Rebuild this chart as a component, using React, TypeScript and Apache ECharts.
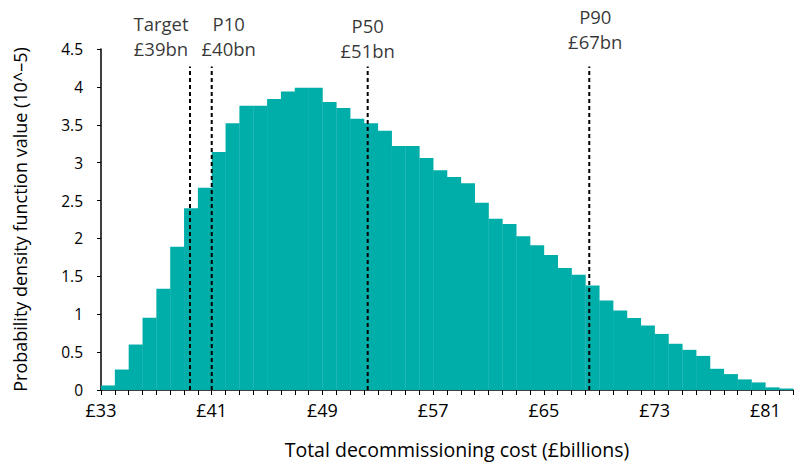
import React, { useEffect, useRef } from "react";
import * as echarts from "echarts";

// Histogram bins: each bin starts at the listed cost (£bn) and is 1 wide
const binStarts: number[] = [
  33, 34, 35, 36, 37, 38, 39, 40, 41, 42, 43, 44, 45, 46, 47, 48, 49, 50, 51, 52, 53, 54, 55, 56, 57,
  58, 59, 60, 61, 62, 63, 64, 65, 66, 67, 68, 69, 70, 71, 72, 73, 74, 75, 76, 77, 78, 79, 80, 81, 82,
];
const density: number[] = [
  0.06, 0.27, 0.6, 0.955, 1.335, 1.89, 2.4, 2.67, 3.14, 3.52, 3.75, 3.75, 3.84, 3.94, 3.99, 3.99, 3.8,
  3.72, 3.58, 3.52, 3.42, 3.22, 3.22, 3.06, 2.9, 2.81, 2.73, 2.47, 2.26, 2.19, 2.03, 1.91, 1.78, 1.61,
  1.52, 1.38, 1.18, 1.05, 0.95, 0.85, 0.74, 0.61, 0.53, 0.45, 0.28, 0.21, 0.14, 0.1, 0.035, 0.02,
];

// Reference lines (position on the cost axis) and their labels
const markerNames: string[] = ["Target", "P10", "P50", "P90"];
const markerValues: string[] = ["£39bn", "£40bn", "£51bn", "£67bn"];
const markerX: number[] = [39.43, 41.0, 52.27, 68.28];
const markerTop: number = 4.27;

const xLabelStep = 8;
const xMin = 33;
const xMax = 83;

const TEAL = "#00AEA9";
const TEXT = "#000";
const FONT = "'Open Sans', 'Noto Sans', sans-serif";

export default function App() {
  const ref = useRef<HTMLDivElement>(null);

  useEffect(() => {
    if (!ref.current) return;
    const chart = echarts.init(ref.current, undefined, { renderer: "svg" });

    const labelOffsets: number[][] = [
      [-29, 0],
      [17, 0],
      [0, 2],
      [6, -7],
    ];

    const lineSeries = markerX.map((x, i) => ({
      type: "line",
      name: markerNames[i],
      data: [
        [x, 0],
        [x, markerTop],
      ],
      symbol: "none",
      z: 5,
      lineStyle: { color: "#000", width: 2, type: [4, 3] },
      silent: true,
    }));

    const option: any = {
      animation: false,
      textStyle: { fontFamily: FONT },
      grid: { left: 101, right: 10, top: 49, bottom: 71, containLabel: false },
      xAxis: {
        type: "value",
        min: xMin,
        max: xMax,
        interval: 1,
        name: "Total decommissioning cost (£billions)",
        nameLocation: "middle",
        nameGap: 49,
        nameTextStyle: { fontSize: 19.5, color: TEXT, fontFamily: FONT, padding: [0, 0, 0, 20] },
        axisLine: { show: true, onZero: false, lineStyle: { color: "#000", width: 1.5 } },
        axisTick: { show: true, length: 5, lineStyle: { color: "#000", width: 1 } },
        splitLine: { show: false },
        axisLabel: {
          color: TEXT,
          fontSize: 18,
          margin: 11,
          fontFamily: FONT,
          showMinLabel: true,
          showMaxLabel: true,
          formatter: (v: number) =>
            (Math.round(v) - xMin) % xLabelStep === 0 && Math.abs(v - Math.round(v)) < 1e-6
              ? "£" + Math.round(v)
              : "",
        },
      },
      yAxis: {
        type: "value",
        min: 0,
        max: 4.5,
        interval: 0.5,
        name: "Probability density function value (10^–5)",
        nameLocation: "middle",
        nameGap: 72,
        nameTextStyle: { fontSize: 18, color: TEXT, fontFamily: FONT },
        axisLine: { show: true, lineStyle: { color: "#000", width: 1.5 } },
        axisTick: { show: true, length: 4, lineStyle: { color: "#000", width: 1 } },
        splitLine: { show: false },
        axisLabel: { color: TEXT, fontSize: 15.5, margin: 18, fontFamily: FONT },
      },
      series: [
        {
          type: "custom",
          name: "density",
          encode: { x: 0, y: 1 },
          data: binStarts.map((b, i) => [b, density[i]]),
          renderItem: (params: any, api: any) => {
            const x0 = api.value(0);
            const y = api.value(1);
            const pTop = api.coord([x0, y]);
            const pBot = api.coord([x0 + 1, 0]);
            return {
              type: "rect",
              shape: {
                x: pTop[0],
                y: pTop[1],
                width: pBot[0] - pTop[0] + 0.3,
                height: pBot[1] - pTop[1],
              },
              style: { fill: TEAL },
            };
          },
          z: 2,
          silent: true,
        },
        ...lineSeries,
        {
          type: "scatter",
          name: "labels",
          symbolSize: 0,
          z: 6,
          silent: true,
          data: markerX.map((x, i) => ({
            value: [x, markerTop],
            label: {
              show: true,
              position: "top",
              distance: 5,
              offset: labelOffsets[i],
              formatter: markerNames[i] + "\n" + markerValues[i],
              fontSize: 18.5,
              lineHeight: 25,
              color: TEXT,
              fontFamily: FONT,
              align: "center",
            },
          })),
        },
      ],
    };

    chart.setOption(option);
    return () => chart.dispose();
  }, []);

  return (
    <div
      ref={ref}
      style={{ position: "fixed", left: 0, top: 0, width: 803, height: 464, background: "#fff" }}
    />
  );
}
